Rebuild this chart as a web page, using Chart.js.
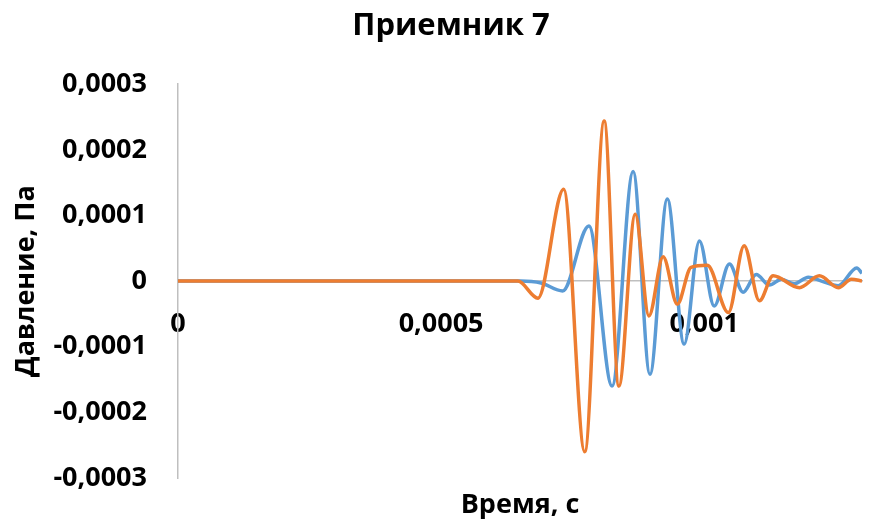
<!DOCTYPE html>
<html lang="ru">
<head>
<meta charset="utf-8">
<title>Приемник 7</title>
<script src="https://cdn.jsdelivr.net/npm/chart.js@4.4.1/dist/chart.umd.min.js"></script>
<style>
  html, body { margin: 0; padding: 0; background: #fff; }
  #wrap { width: 882px; height: 522px; }
</style>
</head>
<body>
<div id="wrap"><canvas id="receiverChart"></canvas></div>
<script>
// Сигнал 1 (синий): время, с и давление, Па
const timeA = [0, 0.000651, 0.00069, 0.000731, 0.000781, 0.000825, 0.000865, 0.000897, 0.00093, 0.000962,
    0.000991, 0.001019, 0.001048, 0.001074, 0.001099, 0.001124, 0.001147, 0.001171, 0.001198, 0.001223,
    0.001255, 0.00129, 0.0013];
const pressureA = [0, 0, -0.000003, -0.000015, 0.000084, -0.00016, 0.000167, -0.000142, 0.000125, -0.000096,
    0.000061, -0.000038, 0.000026, -0.000017, 0.00001, -0.000006, 0.000003, -0.000004, 0.000006, 0,
    -0.000007, 0.00002, 0.000012];

// Сигнал 2 (оранжевый)
const timeB = [0, 0.000646, 0.000684, 0.000733, 0.000773, 0.00081, 0.000838, 0.000869, 0.000895, 0.000922,
    0.000949, 0.000975, 0.001006, 0.001046, 0.001076, 0.001105, 0.001131, 0.001181, 0.001219, 0.001255,
    0.00128, 0.0013];
const pressureB = [0, 0, -0.000026, 0.00014, -0.00026, 0.000244, -0.00016, 0.000102, -0.000053, 0.000037,
    -0.000035, 0.000021, 0.000024, -0.000048, 0.000054, -0.00003, 0.000008, -0.00001, 0.000008, -0.00001,
    0.000003, 0];

// Диапазоны и шаг делений осей
const timeRange = [0, 0.0013];
const pressureRange = [-0.0003, 0.0003];
const timeStep = 0.0005;
const pressureStep = 0.0001;

const AXIS_GRAY = '#bfbfbf';
const TEXT_FONT = { size: 27, weight: 'bold' };

// 0.0005 -> "0,0005"
function formatTick(value) {
    const v = Number(Number(value).toPrecision(6));
    return String(v).replace('.', ',');
}

function toPoints(xs, ys) {
    return xs.map((x, i) => ({ x: x, y: ys[i] }));
}

Chart.defaults.font.family = "'Open Sans', sans-serif";
Chart.defaults.color = '#000';

new Chart(document.getElementById('receiverChart').getContext('2d'), {
    type: 'line',
    data: {
        datasets: [
            {
                data: toPoints(timeA, pressureA),
                borderColor: '#5b9bd5',
                borderWidth: 3.5,
                pointRadius: 0,
                cubicInterpolationMode: 'monotone',
                fill: false,
                order: 1
            },
            {
                // оранжевая линия рисуется поверх синей
                data: toPoints(timeB, pressureB),
                borderColor: '#ed7d31',
                borderWidth: 3.5,
                pointRadius: 0,
                cubicInterpolationMode: 'monotone',
                fill: false,
                order: 0
            }
        ]
    },
    options: {
        responsive: true,
        maintainAspectRatio: false,
        animation: false,
        layout: { padding: { left: 40, right: 20, top: 0, bottom: 0 } },
        plugins: {
            legend: { display: false },
            tooltip: { enabled: false },
            title: {
                display: true,
                text: 'Приемник 7',
                color: '#000',
                font: { size: 31, weight: 'bold' },
                padding: { top: 8, bottom: 39 }
            }
        },
        scales: {
            // нижняя ось только для подписи "Время, с"
            x: {
                type: 'linear',
                position: 'bottom',
                min: timeRange[0],
                max: timeRange[1],
                ticks: { display: false },
                grid: { display: false, drawTicks: false },
                border: { display: false },
                title: {
                    display: true,
                    text: 'Время, с',
                    font: TEXT_FONT,
                    padding: { top: 0, bottom: 0 }
                },
                afterFit: (scale) => { scale.height = 44; }
            },
            // горизонтальная ось, проходящая через ноль давления;
            // отступ подписей задан невидимыми засечками
            xZero: {
                type: 'linear',
                axis: 'x',
                position: { y: 0 },
                min: timeRange[0],
                max: timeRange[1],
                ticks: {
                    stepSize: timeStep,
                    includeBounds: false,
                    autoSkip: false,
                    maxRotation: 0,
                    padding: 0,
                    font: TEXT_FONT,
                    callback: formatTick
                },
                grid: { display: false, drawTicks: true, tickLength: 27 },
                border: { color: AXIS_GRAY, width: 1.5 }
            },
            y: {
                type: 'linear',
                min: pressureRange[0],
                max: pressureRange[1],
                ticks: {
                    stepSize: pressureStep,
                    padding: 0,
                    font: TEXT_FONT,
                    callback: formatTick
                },
                grid: { display: false, drawTicks: true, tickLength: 31 },
                border: { color: AXIS_GRAY, width: 1.5 },
                title: {
                    display: true,
                    text: 'Давление, Па',
                    font: TEXT_FONT,
                    padding: { top: -30, bottom: 0 }
                },
                afterFit: (scale) => { scale.width = 138; }
            }
        }
    }
});
</script>
</body>
</html>
